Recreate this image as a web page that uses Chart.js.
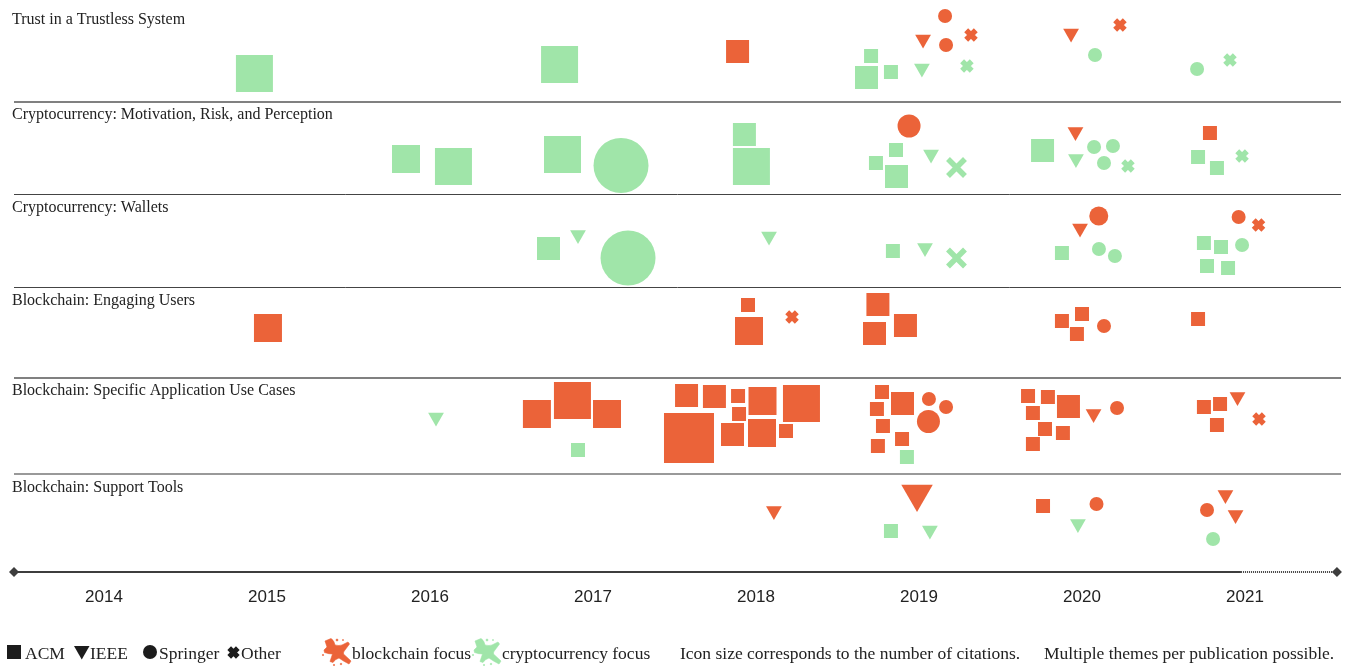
<!DOCTYPE html>
<html>
<head>
<meta charset="utf-8">
<style>
html,body{margin:0;padding:0;background:#fff;overflow:hidden}
#wrap{position:relative;width:1345px;height:666px}
canvas{position:absolute;left:0;top:0}
.lg{position:absolute;top:642px;font:17.5px/22px "Liberation Serif",serif;color:#222;white-space:nowrap}
svg.ic{position:absolute;overflow:visible}
</style>
<script src="https://cdn.jsdelivr.net/npm/chart.js@4"></script>
</head>
<body>
<div id="wrap">
<canvas id="c" width="1345" height="666"></canvas>
<svg class="ic" style="left:7px;top:645px" width="14" height="14"><rect width="14" height="14" fill="#1c1c1c"/></svg>
<span class="lg" style="left:25px">ACM</span>
<svg class="ic" style="left:74px;top:646px" width="16" height="14"><path d="M0 0H15.5L7.75 13.5Z" fill="#1c1c1c"/></svg>
<span class="lg" style="left:90px">IEEE</span>
<svg class="ic" style="left:143px;top:645px" width="14" height="14"><circle cx="7" cy="7" r="7" fill="#1c1c1c"/></svg>
<span class="lg" style="left:159px">Springer</span>
<svg class="ic" style="left:227px;top:646px" width="13" height="13"><path d="M2.2 2.2L10.8 10.8M10.8 2.2L2.2 10.8" stroke="#1c1c1c" stroke-width="5.2"/></svg>
<span class="lg" style="left:241px">Other</span>
<svg class="ic" style="left:323px;top:637px" width="30" height="29"><g fill="#EB6339" stroke="#EB6339" stroke-width=".6" stroke-linejoin="round"><path d="M2 4L8 1.5Q11 3 12 8Q16 9 19 8L25 5L26.5 7L22 13Q20 15 20.5 17L28 24L26 27Q20 24 16 21Q12 22 10 25.5L7 24.5L9.5 17Q6 17 1.5 15.5L1 13L4 10Z"/><circle cx="14" cy="3" r="1"/><circle cx="0" cy="18" r=".7"/><circle cx="11" cy="28" r=".7"/><circle cx="18" cy="27" r=".8"/><circle cx="20" cy="3" r=".6"/></g></svg>
<span class="lg" style="left:352px">blockchain focus</span>
<svg class="ic" style="left:473px;top:637px" width="30" height="29"><g fill="#A0E5A9" stroke="#A0E5A9" stroke-width=".6" stroke-linejoin="round"><path d="M2 4L8 1.5Q11 3 12 8Q16 9 19 8L25 5L26.5 7L22 13Q20 15 20.5 17L28 24L26 27Q20 24 16 21Q12 22 10 25.5L7 24.5L9.5 17Q6 17 1.5 15.5L1 13L4 10Z"/><circle cx="14" cy="3" r="1"/><circle cx="0" cy="18" r=".7"/><circle cx="11" cy="28" r=".7"/><circle cx="18" cy="27" r=".8"/><circle cx="20" cy="3" r=".6"/></g></svg>
<span class="lg" style="left:502px">cryptocurrency focus</span>
<span class="lg" style="left:680px">Icon size corresponds to the number of citations.</span>
<span class="lg" style="left:1044px">Multiple themes per publication possible.</span>
</div>
<script>
const years = [2014,2015,2016,2017,2018,2019,2020,2021];
const themeNames = ["Trust in a Trustless System","Cryptocurrency: Motivation, Risk, and Perception","Cryptocurrency: Wallets","Blockchain: Engaging Users","Blockchain: Specific Application Use Cases","Blockchain: Support Tools"];
const themeLabelY = [2.0,11.5,20.8,30.1,39.1,48.8];
const rowBoundaries = [10.2,19.5,28.8,37.8,47.4];

// A=ACM I=IEEE S=Springer O=Other; b=blockchain c=cryptocurrency; band = citation size band
const trustX = [2014.923,2016.795,2017.887,2018.706,2018.678,2018.828,2019.025,2019.018,2019.160,2019.166,2019.319,2019.294,2019.933,2020.233,2020.080,2020.706,2020.908];
const trustY = [7.35,6.45,5.15,5.6,7.75,7.2,3.93,6.83,1.6,4.5,3.5,6.6,3.33,2.5,5.5,6.9,6.0];
const trustBand = [5,5,3,1,3,1,1,1,1,1,1,1,1,1,1,1,1];
const trustVenue = ["A","A","A","A","A","A","I","I","S","S","O","O","I","O","S","S","O"];
const trustFocus = ["c","c","b","c","c","c","b","c","b","b","b","c","b","b","c","c","c"];

const motivationX = [2015.853,2016.144,2016.813,2017.172,2017.929,2017.972,2018.939,2018.859,2018.736,2018.862,2019.074,2019.230,2019.758,2019.960,2019.963,2020.074,2020.190,2020.135,2020.282,2020.785,2020.712,2020.828,2020.982];
const motivationY = [15.9,16.65,15.45,16.55,13.45,16.65,12.6,15.0,16.3,17.65,15.43,16.75,15.05,13.18,15.88,14.7,14.6,16.3,16.6,13.3,15.7,16.8,15.6];
const motivationBand = [4,5,5,7,3,5,3,1,1,3,1,3,3,1,1,1,1,1,1,1,1,1,1];
const motivationVenue = ["A","A","A","S","A","A","S","A","A","A","I","O","A","I","I","S","S","S","O","A","A","A","O"];
const motivationFocus = ["c","c","c","c","c","c","b","c","c","c","c","c","c","b","c","c","c","c","c","b","c","c","c"];

const walletsX = [2016.727,2016.908,2017.215,2018.080,2018.840,2019.037,2019.230,2020.103,2019.988,2019.877,2020.104,2020.202,2020.961,2021.083,2020.748,2020.853,2020.982,2020.767,2020.896];
const walletsY = [24.85,23.48,25.8,23.63,25.1,24.78,25.8,21.6,22.83,25.3,24.9,25.6,21.7,22.5,24.3,24.7,24.5,26.6,26.8];
const walletsBand = [3,1,7,1,1,1,3,2,1,1,1,1,1,1,1,1,1,1,1];
const walletsVenue = ["A","I","S","I","A","I","O","S","I","A","S","S","S","O","A","A","S","A","A"];
const walletsFocus = ["c","c","c","c","c","c","c","b","b","c","c","c","b","b","c","c","c","c","c"];

const engagingX = [2015.006,2017.951,2017.957,2018.221,2018.748,2018.727,2018.917,2019.877,2020.000,2019.969,2020.135,2020.712];
const engagingY = [32.8,30.5,33.1,31.7,30.45,33.35,32.55,32.1,31.4,33.4,32.6,31.9];
const engagingBand = [4,1,4,1,3,3,3,1,1,1,1,1];
const engagingVenue = ["A","A","A","O","A","A","A","A","A","A","S","A"];
const engagingFocus = ["b","b","b","b","b","b","b","b","b","b","b","b"];

const usecaseX = [2016.037,2016.656,2016.874,2017.086,2016.908,2017.574,2017.745,2017.890,2018.040,2018.279,2017.589,2017.896,2017.856,2018.037,2018.184,2018.773,2018.899,2018.742,2019.061,2019.166,2019.058,2018.779,2018.896,2018.748,2018.926,2019.669,2019.791,2019.917,2019.699,2019.773,2019.883,2019.699,2020.071,2020.215,2020.748,2020.847,2020.954,2020.828,2021.086];
const usecaseY = [41.73,41.4,40.05,41.4,45.0,39.55,39.65,39.6,40.1,40.35,43.8,41.4,43.45,43.3,43.1,39.2,40.35,40.9,39.9,40.7,42.15,42.6,43.9,44.6,45.7,39.6,39.7,40.65,41.3,42.9,43.3,44.4,41.38,40.8,40.7,40.4,39.68,42.5,41.9];
const usecaseBand = [1,4,5,4,1,3,3,1,4,5,6,1,3,4,1,1,3,1,1,1,3,1,1,1,1,1,1,3,1,1,1,1,1,1,1,1,1,1,1];
const usecaseVenue = ["I","A","A","A","A","A","A","A","A","A","A","A","A","A","A","A","A","A","S","S","S","A","A","A","A","A","A","A","A","A","A","A","I","S","A","A","I","A","O"];
const usecaseFocus = ["c","b","b","b","c","b","b","b","b","b","b","b","b","b","b","b","b","b","b","b","b","b","b","b","c","b","b","b","b","b","b","b","b","b","b","b","b","b","b"];

const toolsX = [2018.110,2018.988,2018.828,2019.067,2019.761,2020.089,2019.975,2020.880,2020.767,2020.942,2020.804];
const toolsY = [51.08,49.39,53.1,53.03,50.6,50.4,52.38,49.48,51.0,51.48,53.9];
const toolsBand = [1,4,1,1,1,1,1,1,1,1,1];
const toolsVenue = ["I","I","A","I","A","S","I","I","S","I","S"];
const toolsFocus = ["b","b","c","c","b","b","c","b","b","b","c"];

const axisSolidX = [2013.448,2020.975];
const axisDottedX = [2020.975,2021.564];
const axisLevel = 57.2;

const bandSide = {1:14,2:19,3:23,4:28,5:37,6:50,7:55};
const focusColor = {b:"#EB6339",c:"#A0E5A9"};
const venueStyle = {A:"rect",I:"triangle",S:"circle",O:"crossRot"};
const venueRadius = {A:s=>s*Math.SQRT1_2,I:s=>s*0.65,S:s=>s/2,O:s=>s>14?12:6.8};

function themeDataset(label,xs,ys,bands,venues,foci){
  return {
    label,
    data: xs.map((x,i)=>({x,y:ys[i]})),
    showLine:false, clip:false,
    pointStyle: venues.map(v=>venueStyle[v]),
    pointRadius: venues.map((v,i)=>venueRadius[v](bandSide[bands[i]])),
    pointRotation: venues.map(v=>v==="I"?180:0),
    pointBackgroundColor: foci.map(f=>focusColor[f]),
    pointBorderColor: foci.map(f=>focusColor[f]),
    pointBorderWidth: venues.map(v=>v==="O"?5.5:0)
  };
}
const datasets = [
  {label:"axis",data:axisSolidX.map(x=>({x,y:axisLevel})),showLine:true,clip:false,borderColor:"#3d3d3d",borderWidth:2,pointStyle:"rectRot",pointRadius:[5,0],pointBackgroundColor:"#3d3d3d",pointBorderWidth:0},
  {label:"axis projected",data:axisDottedX.map(x=>({x,y:axisLevel})),showLine:true,clip:false,borderColor:"#3d3d3d",borderWidth:2,borderDash:[1,1],pointStyle:"rectRot",pointRadius:[0,5],pointBackgroundColor:"#3d3d3d",pointBorderWidth:0},
  themeDataset(themeNames[0],trustX,trustY,trustBand,trustVenue,trustFocus),
  themeDataset(themeNames[1],motivationX,motivationY,motivationBand,motivationVenue,motivationFocus),
  themeDataset(themeNames[2],walletsX,walletsY,walletsBand,walletsVenue,walletsFocus),
  themeDataset(themeNames[3],engagingX,engagingY,engagingBand,engagingVenue,engagingFocus),
  themeDataset(themeNames[4],usecaseX,usecaseY,usecaseBand,usecaseVenue,usecaseFocus),
  themeDataset(themeNames[5],toolsX,toolsY,toolsBand,toolsVenue,toolsFocus)
];
const themeLabels = {
  id:"themeLabels",
  afterDatasetsDraw(chart){
    const c=chart.ctx, y=chart.scales.y;
    c.save();
    c.font='16px "Liberation Serif", serif';
    c.fillStyle="#222";
    c.textBaseline="middle";
    c.textAlign="left";
    themeNames.forEach((t,i)=>c.fillText(t,12,y.getPixelForValue(themeLabelY[i])));
    c.restore();
  }
};
const ruleColors = ["#808080","#444444","#444444","#808080","#999999"];
const ruleWidths = [2,1,1,2,2];
new Chart(document.getElementById("c"),{
  type:"scatter",
  data:{datasets},
  plugins:[themeLabels],
  options:{
    responsive:false, animation:false, events:[],
    layout:{autoPadding:false,padding:{left:14,right:4,top:0,bottom:0}},
    plugins:{legend:{display:false},tooltip:{enabled:false},title:{display:false}},
    scales:{
      x:{
        type:"linear",min:2013.448,max:2021.589,
        afterBuildTicks:s=>{s.ticks=years.map(v=>({value:v}));},
        afterFit:s=>{s.height=94;},
        grid:{display:false,drawTicks:false},
        border:{display:false},
        ticks:{autoSkip:false,maxRotation:0,padding:15,color:"#222",font:{family:'"Liberation Sans", Arial, sans-serif',size:17},callback:v=>String(v)}
      },
      y:{
        type:"linear",min:0,max:57.2,reverse:true,
        afterBuildTicks:s=>{s.ticks=rowBoundaries.map(v=>({value:v}));},
        afterFit:s=>{s.width=0;},
        border:{display:false},
        grid:{drawTicks:false,color:c=>ruleColors[c.index],lineWidth:c=>ruleWidths[c.index]},
        ticks:{display:false}
      }
    }
  }
});
</script>
</body>
</html>
